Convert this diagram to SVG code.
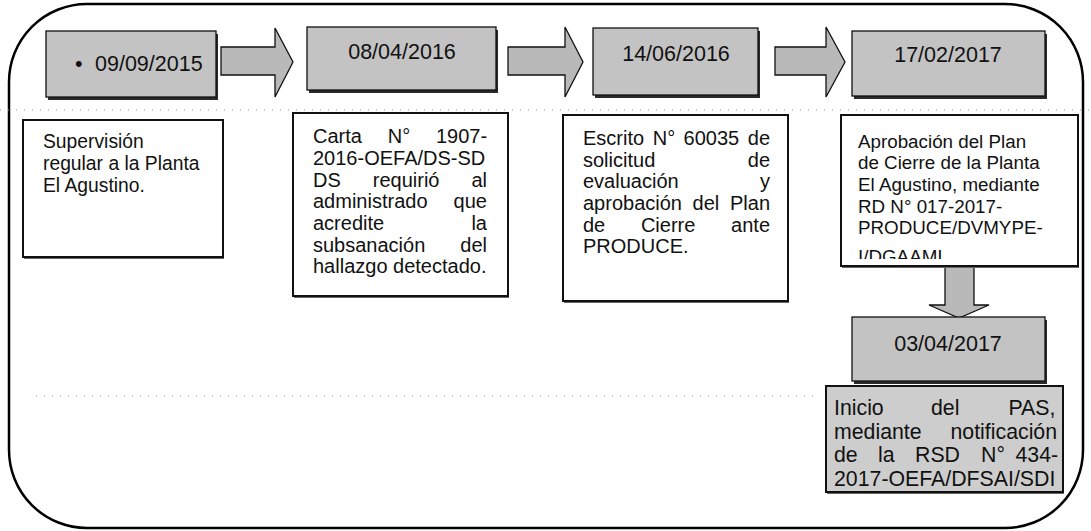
<svg xmlns="http://www.w3.org/2000/svg" width="1091" height="531" viewBox="0 0 1091 531">
  <defs>
    <style>
      .frame { fill: none; stroke: #000; stroke-width: 2.5; }
      .scan { fill: none; stroke: #9a9a9a; stroke-width: 1; stroke-dasharray: 1 7; }
      .dshadow { fill: #2a2a2a; }
      .dbox { fill: #c3c3c3; stroke: #111; stroke-width: 1.3; }
      .tshadow { fill: #666; }
      .tbox { fill: #fff; stroke: #111; stroke-width: 2; }
      .tboxg { fill: #cdcdcd; stroke: #111; stroke-width: 2; }
      .arrow { fill: #b9b9b9; stroke: #111; stroke-width: 1.3; stroke-linejoin: miter; }
      .date { font-family: "Liberation Sans", Arial, sans-serif; font-size: 21.5px; fill: #111; text-anchor: middle; }
      .t { font-family: "Liberation Sans", Arial, sans-serif; fill: #111; }
      .f19 { font-size: 19.3px; }
      .f20 { font-size: 20px; }
      .fD { font-size: 18.8px; }
      .fE { font-size: 21.3px; }
    </style>
    <clipPath id="clipD">
      <rect x="841" y="115" width="237" height="144"/>
    </clipPath>
  </defs>

  <rect id="frame" class="frame" x="9" y="4" width="1074" height="524" rx="78" ry="78"/>
  <line class="scan" x1="0" y1="110" x2="1091" y2="110"/>
  <line class="scan" x1="36" y1="396" x2="815" y2="396"/>

  <g id="connectors">
    <polygon class="arrow" points="221,47 275,47 275,28 293,62 275,97 275,75 221,75"/>
    <polygon class="arrow" points="508,47 565,47 565,27 583,62 565,97 565,75 508,75"/>
    <polygon class="arrow" points="775,47 826,47 826,27 845,62 826,97 826,75 775,75"/>
    <polygon class="arrow" points="945,266 974,266 974,305 989,305 959,318 929,305 945,305"/>
  </g>

  <g id="date1">
    <rect class="dshadow" x="48" y="34" width="170" height="66"/>
    <rect class="dbox" x="46" y="31" width="170" height="66"/>
    <text class="t" style="font-size:21.5px"><tspan x="75" y="71">• </tspan><tspan x="95" y="71">09/09/2015</tspan></text>
  </g>

  <g id="date2">
    <rect class="dshadow" x="309" y="30" width="189" height="63"/>
    <rect class="dbox" x="307" y="27" width="189" height="63"/>
    <text class="date" x="402" y="59">08/04/2016</text>
  </g>

  <g id="date3">
    <rect class="dshadow" x="595" y="31" width="165" height="67"/>
    <rect class="dbox" x="593" y="28" width="165" height="67"/>
    <text class="date" x="676" y="61">14/06/2016</text>
  </g>

  <g id="date4">
    <rect class="dshadow" x="854" y="34" width="193" height="65"/>
    <rect class="dbox" x="852" y="31" width="193" height="65"/>
    <text class="date" x="948" y="62">17/02/2017</text>
  </g>

  <g id="date5">
    <rect class="dshadow" x="854" y="320" width="193" height="64"/>
    <rect class="dbox" x="852" y="317" width="193" height="64"/>
    <text class="date" x="948" y="351">03/04/2017</text>
  </g>

  <g id="boxA">
    <rect class="tshadow" x="24" y="122" width="200" height="137"/>
    <rect class="tbox" x="23" y="120" width="200" height="137"/>
    <text class="t f19">
      <tspan x="43" y="148">Supervisión</tspan>
      <tspan x="43" y="170">regular a la Planta</tspan>
      <tspan x="43" y="192">El Agustino.</tspan>
    </text>
  </g>

  <g id="boxB">
    <rect class="tshadow" x="294" y="115" width="215" height="183"/>
    <rect class="tbox" x="293" y="113" width="215" height="183"/>
    <text class="t f20">
      <tspan x="313" y="143.3">Carta </tspan><tspan x="387.7" y="143.3">N° </tspan><tspan x="435.9" y="143.3">1907-</tspan>
      <tspan x="313" y="165">2016-OEFA/DS-SD</tspan>
      <tspan x="313" y="186.7">DS </tspan><tspan x="372.8" y="186.7">requirió </tspan><tspan x="471.4" y="186.7">al</tspan>
      <tspan x="313" y="208.3">administrado </tspan><tspan x="453.6" y="208.3">que</tspan>
      <tspan x="313" y="230">acredite </tspan><tspan x="471.4" y="230">la</tspan>
      <tspan x="313" y="251.7">subsanación </tspan><tspan x="460.3" y="251.7">del</tspan>
      <tspan x="313" y="273.3">hallazgo detectado.</tspan>
    </text>
  </g>

  <g id="boxC">
    <rect class="tshadow" x="564" y="117" width="225" height="186"/>
    <rect class="tbox" x="563" y="115" width="225" height="186"/>
    <text class="t f20">
      <tspan x="583" y="145">Escrito </tspan><tspan x="652.7" y="145">N° </tspan><tspan x="683.6" y="145">60035 </tspan><tspan x="747.8" y="145">de</tspan>
      <tspan x="583" y="166.7">solicitud </tspan><tspan x="747.8" y="166.7">de</tspan>
      <tspan x="583" y="188.3">evaluación </tspan><tspan x="760" y="188.3">y</tspan>
      <tspan x="583" y="210">aprobación </tspan><tspan x="692.6" y="210">del </tspan><tspan x="730" y="210">Plan</tspan>
      <tspan x="583" y="231.7">de </tspan><tspan x="640.9" y="231.7">Cierre </tspan><tspan x="731.1" y="231.7">ante</tspan>
      <tspan x="583" y="253.3">PRODUCE.</tspan>
    </text>
  </g>

  <g id="boxD">
    <rect class="tshadow" x="842" y="117" width="237" height="151"/>
    <rect class="tbox" x="841" y="115" width="237" height="151"/>
    <text class="t fD" clip-path="url(#clipD)">
      <tspan x="858" y="147.7">Aprobación del Plan</tspan>
      <tspan x="858" y="169.3">de Cierre de la Planta</tspan>
      <tspan x="858" y="191">El Agustino, mediante</tspan>
      <tspan x="858" y="212.7">RD N° 017-2017-</tspan>
      <tspan x="858" y="234.3">PRODUCE/DVMYPE-</tspan>
      <tspan x="858" y="263">I/DGAAMI</tspan>
    </text>
  </g>

  <g id="boxE">
    <rect class="tshadow" x="827" y="388" width="237" height="106"/>
    <rect class="tboxg" x="826" y="386" width="237" height="106"/>
    <text class="t fE">
      <tspan x="834" y="415">Inicio </tspan><tspan x="931" y="415">del </tspan><tspan x="1008.4" y="415">PAS,</tspan>
      <tspan x="834" y="438.5">mediante </tspan><tspan x="950.5" y="438.5">notificación</tspan>
      <tspan x="834" y="462">de </tspan><tspan x="878" y="462">la </tspan><tspan x="915" y="462">RSD </tspan><tspan x="981" y="462">N° </tspan><tspan x="1015.5" y="462">434-</tspan>
      <tspan x="834" y="485.5">2017-OEFA/DFSAI/SDI</tspan>
    </text>
  </g>
</svg>
